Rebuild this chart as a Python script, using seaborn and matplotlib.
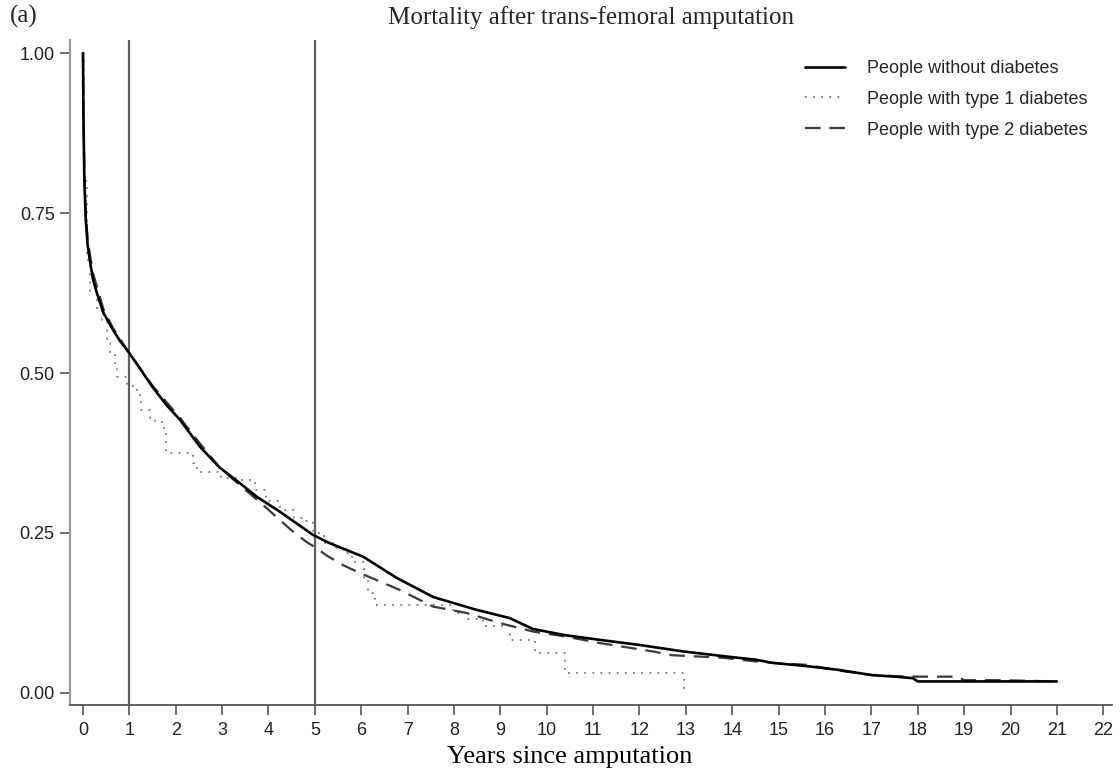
import numpy as np
import pandas as pd
import seaborn as sns
import matplotlib.pyplot as plt

# ==========================================
# survival curves (years, proportion alive)
# ==========================================
t_nodm = [0, 0.01, 0.03, 0.06, 0.1, 0.15, 0.22, 0.3, 0.44, 0.55, 0.65, 0.8, 0.98,
          1.2, 1.5, 1.8, 2.09, 2.52, 2.95, 3.38, 3.74, 4.25, 4.96, 5.32, 6.04, 6.76,
          7.55, 8.48, 9.2, 9.7, 10.42, 11.14, 12.0, 12.93, 13.87, 14.5, 14.87, 15.6,
          16.3, 17.0, 17.6, 17.9, 18.0, 21.0]
s_nodm = [1.0, 0.90, 0.80, 0.74, 0.70, 0.675, 0.645, 0.625, 0.594, 0.58, 0.567, 0.55,
          0.533, 0.51, 0.478, 0.45, 0.427, 0.385, 0.352, 0.328, 0.307, 0.283, 0.247,
          0.234, 0.213, 0.18, 0.15, 0.13, 0.117, 0.1, 0.09, 0.083, 0.075, 0.065, 0.057,
          0.052, 0.047, 0.042, 0.036, 0.028, 0.025, 0.023, 0.018, 0.018]

t_t1 = [0, 0.02, 0.08, 0.15, 0.3, 0.4, 0.51, 0.58, 0.69, 0.73, 0.95, 1.16, 1.26, 1.44,
        1.55, 1.72, 1.8, 2.37, 2.45, 2.97, 3.3, 3.7, 3.95, 4.25, 4.55, 4.75, 4.95, 5.2,
        5.4, 5.6, 5.8, 6.05, 6.15, 6.3, 7.97, 8.3, 8.62, 9.2, 9.74, 10.4, 12.97]
s_t1 = [1.0, 0.80, 0.677, 0.627, 0.60, 0.583, 0.547, 0.528, 0.512, 0.494, 0.48, 0.466,
        0.442, 0.43, 0.424, 0.414, 0.375, 0.36, 0.346, 0.336, 0.333, 0.317, 0.30, 0.286,
        0.273, 0.268, 0.25, 0.235, 0.226, 0.218, 0.205, 0.176, 0.156, 0.1375, 0.125,
        0.115, 0.105, 0.083, 0.0625, 0.031, 0.0]

t_t2 = [0, 0.01, 0.03, 0.06, 0.1, 0.15, 0.22, 0.3, 0.44, 0.65, 0.98, 1.5, 2.09, 2.52,
        2.95, 3.38, 3.88, 4.25, 4.53, 4.82, 5.04, 5.25, 5.6, 5.97, 6.83, 7.55, 8.27, 9.0,
        9.7, 10.42, 11.14, 12.28, 12.7, 13.8, 14.4, 14.87, 15.6, 16.3, 17.0, 17.6, 18.04,
        18.85, 19.0, 19.8, 21.0]
s_t2 = [1.0, 0.90, 0.81, 0.75, 0.71, 0.685, 0.655, 0.635, 0.60, 0.57, 0.533, 0.48,
        0.43, 0.39, 0.352, 0.325, 0.294, 0.27, 0.252, 0.236, 0.226, 0.215, 0.2, 0.1875,
        0.161, 0.135, 0.125, 0.109, 0.096, 0.088, 0.078, 0.065, 0.059, 0.055, 0.05, 0.047,
        0.044, 0.035, 0.028, 0.026, 0.0255, 0.0255, 0.02, 0.02, 0.018]

labels = ['People without diabetes', 'People with type 1 diabetes', 'People with type 2 diabetes']
x_ticks = list(range(0, 23))
y_ticks = [0.0, 0.25, 0.5, 0.75, 1.0]
ref_years = [1, 5]

sns.set_theme(style='ticks')
plt.rcParams['font.family'] = ['Liberation Sans', 'DejaVu Sans']

fig = plt.figure(figsize=(11.2, 7.74), dpi=100)
ax = fig.add_axes([0.0625, 0.089, 0.93, 0.859])

for yr in ref_years:
    ax.axvline(yr, color='#5f5f5f', linewidth=1.6, zorder=1)

df_nodm = pd.DataFrame({'t': t_nodm, 's': s_nodm})
df_t1 = pd.DataFrame({'t': t_t1, 's': s_t1})
df_t2 = pd.DataFrame({'t': t_t2, 's': s_t2})

sns.lineplot(data=df_t1, x='t', y='s', ax=ax, estimator=None, sort=False,
             drawstyle='steps-post', color='#777777', linewidth=1.3,
             linestyle=(0, (1, 3.5)), label=labels[1], zorder=2)
sns.lineplot(data=df_t2, x='t', y='s', ax=ax, estimator=None, sort=False,
             color='#3a3a3a', linewidth=1.6, linestyle=(0, (7, 4)),
             label=labels[2], zorder=3)
sns.lineplot(data=df_nodm, x='t', y='s', ax=ax, estimator=None, sort=False,
             color='black', linewidth=1.9, label=labels[0], zorder=4)

ax.set_xlim(-0.28, 22.18)
ax.set_ylim(-0.019, 1.02)
ax.set_xticks(x_ticks)
ax.set_yticks(y_ticks)
ax.set_yticklabels([f'{v:.2f}' for v in y_ticks])
ax.tick_params(axis='both', colors='#555555', labelcolor='#222222', labelsize=13,
               length=7, width=1.2)
ax.tick_params(axis='y', pad=4)
ax.tick_params(axis='x', pad=5)

for side in ['top', 'right']:
    ax.spines[side].set_visible(False)
ax.spines['left'].set_color('#999999')
ax.spines['left'].set_linewidth(1.5)
ax.spines['bottom'].set_color('#555555')
ax.spines['bottom'].set_linewidth(1.3)

ax.set_xlabel('Years since amputation', family='Liberation Serif', fontsize=19,
              color='black', labelpad=5)
ax.xaxis.label.set_x(0.48)
ax.set_ylabel('')
ax.set_title('Mortality after trans-femoral amputation', family='Liberation Serif',
             fontsize=18, pad=12)
fig.text(0.009, 0.979, '(a)', family='Liberation Serif', fontsize=18, va='center')

handles, labs = ax.get_legend_handles_labels()
order = [labs.index(l) for l in labels]
ax.legend([handles[i] for i in order], [labs[i] for i in order], loc='upper right',
          frameon=False, fontsize=13, handlelength=2.2, handletextpad=1.2,
          labelspacing=0.77, borderaxespad=0, bbox_to_anchor=(0.977, 0.932),
          bbox_transform=fig.transFigure)

fig.savefig('out.png', dpi=100)
